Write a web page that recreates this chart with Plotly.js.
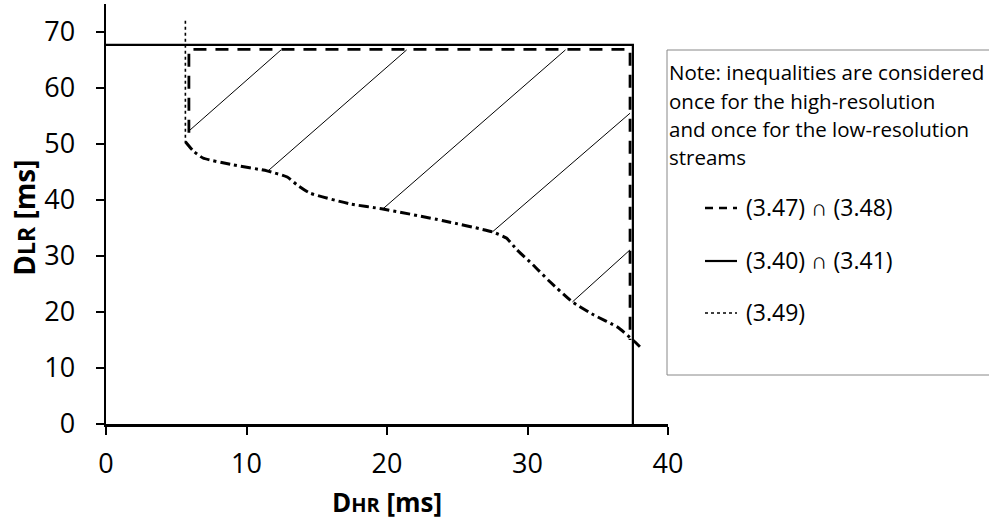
<!DOCTYPE html>
<html>
<head>
<meta charset="utf-8">
<script src="https://cdn.plot.ly/plotly-3.0.1.min.js"></script>
<style>html,body{margin:0;padding:0;background:#fff;}#chart{width:989px;height:527px;}</style>
</head>
<body>
<div id="chart"></div>
<script>
// Boundary (3.40) ∩ (3.41) - solid
var solidX = [0, 37.5, 37.5];
var solidY = [67.7, 67.7, 0];
// Boundary (3.47) ∩ (3.48) - dashed
var dashX = [5.9, 5.9, 37.3, 37.3];
var dashY = [52, 66.9, 66.9, 15];
// Boundary (3.49) - dotted
var dotX = [5.65, 5.65];
var dotY = [72, 50.3];
// Lower boundary curve - dash-dot
var curveX = [5.65, 6.2, 6.9, 9.0, 11.46, 12.9, 13.6, 14.5, 17.37, 19.7, 24.0, 27.5, 28.5, 29.25, 30.4, 31.6, 33.2, 34.7, 36.4, 37.5, 38.0];
var curveY = [50.4, 48.8, 47.5, 46.3, 45.2, 44.1, 42.7, 41.25, 39.3, 38.4, 36.3, 34.3, 33.2, 31.1, 28.4, 25.4, 21.8, 19.5, 17.3, 15.0, 13.8];
// Hatch lines of the feasible region
var hatchX1 = [5.98, 11.53, 19.7, 27.5, 33.2];
var hatchY1 = [52.5, 45.2, 38.4, 34.3, 21.8];
var hatchX2 = [12.46, 21.4, 32.7, 37.3, 37.3];
var hatchY2 = [66.8, 66.8, 66.8, 55.5, 31.1];
// Axis ticks
var xTicks = [0, 10, 20, 30, 40];
var yTicks = [0, 10, 20, 30, 40, 50, 60, 70];
// Note and legend texts
var noteLines = ["Note: inequalities are considered", "once for the high-resolution", "and once for the low-resolution", "streams"];
var legendLabels = ["(3.47) ∩ (3.48)", "(3.40) ∩ (3.41)", "(3.49)"];

var FONT = "Open Sans, sans-serif";

var hx = [], hy = [];
for (var i = 0; i < hatchX1.length; i++) {
  hx.push(hatchX1[i], hatchX2[i], null);
  hy.push(hatchY1[i], hatchY2[i], null);
}

var traces = [
  {x: hx, y: hy, mode: 'lines', line: {color: '#000', width: 1}, hoverinfo: 'skip', showlegend: false},
  {x: solidX, y: solidY, mode: 'lines', line: {color: '#000', width: 2.2}, showlegend: false},
  {x: dashX, y: dashY, mode: 'lines', line: {color: '#000', width: 2.8, dash: '13px,9px'}, showlegend: false},
  {x: dotX, y: dotY, mode: 'lines', line: {color: '#000', width: 1.6, dash: 'dot'}, showlegend: false},
  {x: curveX, y: curveY, mode: 'lines', line: {color: '#000', width: 3, dash: '10px,4px,3px,4px', shape: 'spline', smoothing: 0.5}, showlegend: false}
];

// paper coords helpers (plot area: x 106..668, y 4..424 px)
function px(p) { return (p - 106) / 562; }
function py(p) { return (424 - p) / 420; }

var shapes = [
  {type: 'rect', xref: 'paper', yref: 'paper', x0: px(667), x1: px(995), y0: py(375), y1: py(50), line: {color: '#888', width: 1}},
  {type: 'line', xref: 'paper', yref: 'paper', x0: px(705), x1: px(737), y0: py(208), y1: py(208), line: {color: '#000', width: 2.5, dash: '8px,6px'}},
  {type: 'line', xref: 'paper', yref: 'paper', x0: px(705), x1: px(737), y0: py(261), y1: py(261), line: {color: '#000', width: 2.2}},
  {type: 'line', xref: 'paper', yref: 'paper', x0: px(705), x1: px(737), y0: py(313), y1: py(313), line: {color: '#000', width: 1.3, dash: 'dot'}}
];

var annotations = [];
var noteY = [72, 101, 129, 157];
for (var j = 0; j < noteLines.length; j++) {
  annotations.push({xref: 'paper', yref: 'paper', x: px(667), y: py(noteY[j]), xanchor: 'left', yanchor: 'middle', showarrow: false, text: noteLines[j], font: {family: FONT, size: 20.5, color: '#000'}});
}
var legY = [207, 260, 312];
for (var k = 0; k < legendLabels.length; k++) {
  annotations.push({xref: 'paper', yref: 'paper', x: px(744), y: py(legY[k]), xanchor: 'left', yanchor: 'middle', showarrow: false, text: legendLabels[k], font: {family: FONT, size: 23, color: '#000'}});
}

var layout = {
  width: 989, height: 527,
  margin: {l: 106, r: 321, t: 4, b: 103},
  paper_bgcolor: '#fff', plot_bgcolor: '#fff',
  showlegend: false,
  xaxis: {
    range: [0, 40], tickvals: xTicks, ticktext: xTicks.map(String),
    showgrid: false, zeroline: false, showline: true, linecolor: '#000', linewidth: 2.5,
    ticks: 'outside', ticklen: 8, tickwidth: 2, tickcolor: '#000', ticklabelstandoff: 6,
    tickfont: {family: FONT, size: 27, color: '#000'},
    title: {text: "<b>D<span style='font-size:20px'>HR</span> [ms]</b>", font: {family: FONT, size: 26, color: '#000'}, standoff: 14}
  },
  yaxis: {
    range: [0, 75], tickvals: yTicks, ticktext: yTicks.map(String),
    showgrid: false, zeroline: false, showline: true, linecolor: '#000', linewidth: 2.5,
    ticks: 'outside', ticklen: 8, tickwidth: 2, tickcolor: '#000', ticklabelstandoff: 15,
    tickfont: {family: FONT, size: 27, color: '#000'},
    title: {text: "<b>D<span style='font-size:23px'>LR</span> [ms]&nbsp;</b>", font: {family: FONT, size: 28, color: '#000'}, standoff: 1}
  },
  shapes: shapes,
  annotations: annotations
};

Plotly.newPlot('chart', traces, layout, {displayModeBar: false, staticPlot: true});
</script>
</body>
</html>
